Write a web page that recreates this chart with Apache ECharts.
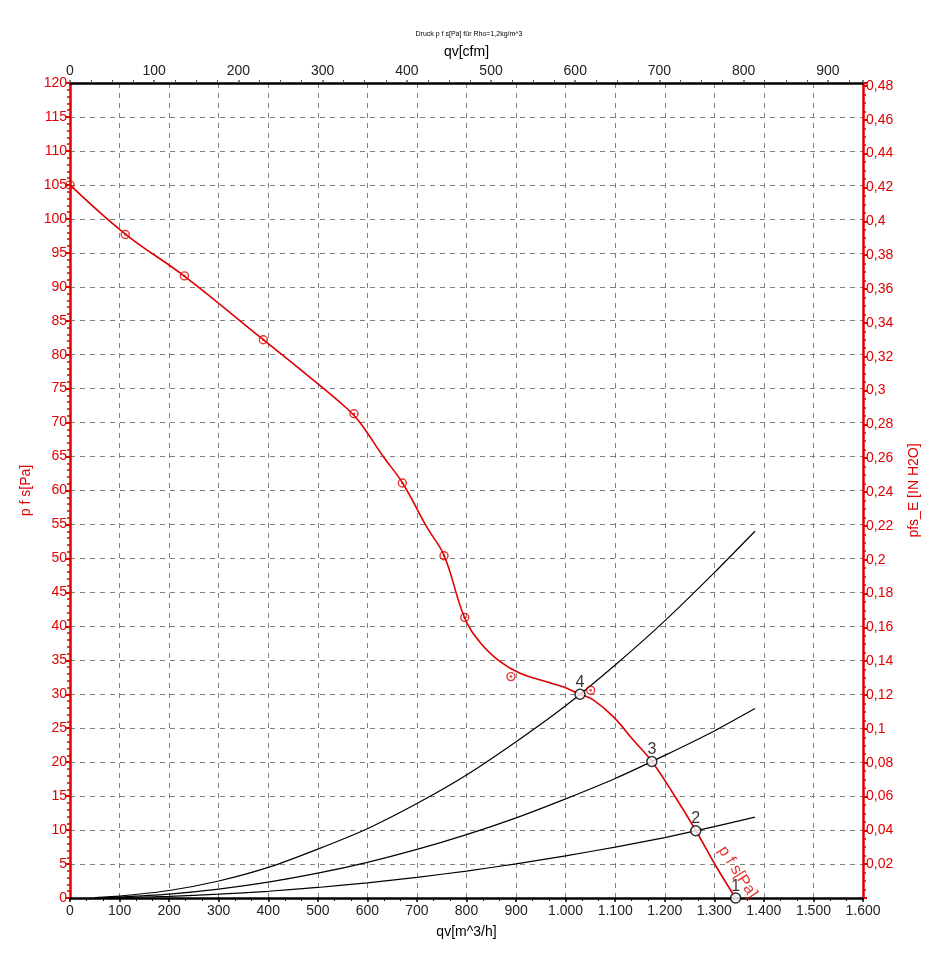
<!DOCTYPE html>
<html>
<head>
<meta charset="utf-8">
<script src="https://cdn.jsdelivr.net/npm/echarts@6/dist/echarts.min.js"></script>
<style>
html,body{margin:0;padding:0;background:#fff;}
#chart{width:938px;height:960px;}
</style>
</head>
<body>
<div id="chart"></div>
<script>
// ---- data ----
const titleText = 'Druck p f s[Pa] für Rho=1,2kg/m^3';
const M3H_TO_CFM = 0.588578;      // 1 m^3/h in cfm
const PA_TO_INH2O = 1 / 249.089;  // 1 Pa in in H2O
const qvMax = 1600;
const pMax = 120;

// fan curve p f s [Pa] vs qv [m^3/h]
const curveQ = [0, 111, 230, 390, 470, 560, 585, 632, 671, 720, 755, 796, 828, 868, 908, 963, 995, 1029, 1055, 1096, 1136, 1174, 1216, 1263, 1304, 1343];
const curveP = [105, 97.8, 91.6, 82.2, 77.5, 72.0, 70.0, 65.0, 61.1, 54.6, 50.4, 41.3, 37.6, 34.8, 33.1, 31.8, 31.1, 30.0, 29.2, 26.7, 23.3, 20.1, 15.5, 9.9, 4.6, 0];

// measured points
const measQ = [0, 111.5, 230.8, 390, 573, 670.6, 754.6, 796.4, 889.7, 1050.4];
const measP = [105, 97.7, 91.6, 82.2, 71.3, 61.1, 50.4, 41.3, 32.6, 30.6];

// system resistance curves
const sysQ  = [50, 100, 200, 300, 400, 500, 600, 700, 800, 900, 1000, 1100, 1200, 1300, 1382];
const sys4P = [0.07, 0.28, 1.1, 2.5, 4.5, 7.2, 10.2, 13.9, 18.1, 23.0, 28.3, 34.3, 40.8, 47.9, 54.0];
const sys3P = [0.04, 0.15, 0.58, 1.31, 2.33, 3.65, 5.25, 7.15, 9.33, 11.8, 14.6, 17.6, 21.0, 24.6, 27.9];
const sys2P = [0.02, 0.06, 0.25, 0.56, 0.99, 1.55, 2.24, 3.04, 3.97, 5.03, 6.21, 7.5, 8.9, 10.5, 11.9];

// operating points
const opQ = [1343, 1262.6, 1174, 1029];
const opP = [0, 9.9, 20.1, 30.0];
const opLabels = ['1', '2', '3', '4'];

// curve label
const curveLabel = 'p f s[Pa]';
const curveLabelAt = [1347, 3.8];

// ---- chart ----
const RED = '#e00000';
const FONT = '"Liberation Sans", Arial, sans-serif';
const zip = (a, b) => a.map((v, i) => [v, b[i]]);

function fmtThousands(v) {
  if (v >= 1000) {
    const t = Math.floor(v / 1000);
    const r = Math.round(v % 1000);
    return t + '.' + String(r).padStart(3, '0');
  }
  return String(Math.round(v));
}
function fmtInH2O(v) {
  if (v === 0) return '';
  const k = Math.round(v / 0.02);
  if (Math.abs(v - k * 0.02) > 1e-6) return '';
  let s = (k * 0.02).toFixed(2).replace(/0+$/, '').replace(/\.$/, '');
  return s.replace('.', ',');
}

const chart = echarts.init(document.getElementById('chart'), null, {renderer: 'canvas'});
const option = {
  backgroundColor: '#fff',
  animation: false,
  title: {
    text: titleText, left: 'center', top: 26,
    textStyle: {fontSize: 7, fontWeight: 'normal', color: '#000', fontFamily: FONT}
  },
  grid: {left: 70, right: 75, top: 83, bottom: 62, containLabel: false},
  xAxis: [
    {
      type: 'value', position: 'bottom', min: 0, max: qvMax, interval: 100,
      name: 'qv[m^3/h]', nameLocation: 'middle', nameGap: 27,
      nameTextStyle: {color: '#000', fontSize: 14, fontFamily: FONT},
      axisLine: {show: true, onZero: false, lineStyle: {color: '#000', width: 2.5}},
      axisTick: {show: true, inside: false, length: 4, lineStyle: {color: '#000', width: 1.5}},
      minorTick: {show: true, splitNumber: 3, length: 3, lineStyle: {color: '#000'}},
      axisLabel: {color: '#222', fontSize: 14, fontFamily: FONT, margin: 6, formatter: fmtThousands},
      splitLine: {show: true, lineStyle: {color: '#808080', type: [5, 5], width: 1}}
    },
    {
      type: 'value', position: 'top', min: 0, max: qvMax * M3H_TO_CFM, interval: 100,
      name: 'qv[cfm]', nameLocation: 'middle', nameGap: 24,
      nameTextStyle: {color: '#000', fontSize: 14, fontFamily: FONT},
      axisLine: {show: true, onZero: false, lineStyle: {color: '#000', width: 2.5}},
      axisTick: {show: true, inside: false, length: 3, lineStyle: {color: '#555', width: 1.5}},
      minorTick: {show: true, splitNumber: 4, length: 3, lineStyle: {color: '#555'}},
      axisLabel: {color: '#222', fontSize: 14, fontFamily: FONT, margin: 5, showMaxLabel: false,
        formatter: v => (Math.abs(v - Math.round(v / 100) * 100) < 1e-6 ? String(Math.round(v)) : '')},
      splitLine: {show: false}
    }
  ],
  yAxis: [
    {
      type: 'value', position: 'left', min: 0, max: pMax, interval: 5,
      name: 'p f s[Pa]', nameLocation: 'middle', nameGap: 22, nameRotate: 90,
      nameTextStyle: {color: RED, fontSize: 14, fontFamily: FONT},
      axisLine: {show: true, onZero: false, lineStyle: {color: RED, width: 2.5}},
      axisTick: {show: true, inside: false, length: 4, lineStyle: {color: RED, width: 2}},
      minorTick: {show: true, splitNumber: 5, length: 3, lineStyle: {color: RED, width: 1.5}},
      axisLabel: {color: RED, fontSize: 14, fontFamily: FONT, margin: 3},
      splitLine: {show: true, lineStyle: {color: '#808080', type: [5, 5], width: 1}}
    },
    {
      type: 'value', position: 'right', min: 0, max: pMax * PA_TO_INH2O, interval: 0.02,
      name: 'pfs_E [IN H2O]', nameLocation: 'middle', nameGap: 44, nameRotate: 90,
      nameTextStyle: {color: RED, fontSize: 14, fontFamily: FONT},
      axisLine: {show: true, onZero: false, lineStyle: {color: RED, width: 2.5}},
      axisTick: {show: true, inside: false, length: 4, lineStyle: {color: RED, width: 2}},
      minorTick: {show: true, splitNumber: 4, length: 3, lineStyle: {color: RED, width: 1.5}},
      axisLabel: {color: RED, fontSize: 14, fontFamily: FONT, margin: 3, showMaxLabel: false, formatter: fmtInH2O},
      splitLine: {show: false}
    }
  ],
  series: [
    {type: 'line', data: zip(sysQ, sys4P), showSymbol: false, smooth: 0.2,
     lineStyle: {color: '#000', width: 1.2}, z: 2, silent: true},
    {type: 'line', data: zip(sysQ, sys3P), showSymbol: false, smooth: 0.2,
     lineStyle: {color: '#000', width: 1.2}, z: 2, silent: true},
    {type: 'line', data: zip(sysQ, sys2P), showSymbol: false, smooth: 0.2,
     lineStyle: {color: '#000', width: 1.2}, z: 2, silent: true},
    {type: 'line', data: zip(curveQ, curveP), showSymbol: false, smooth: 0.4,
     lineStyle: {color: RED, width: 1.6}, z: 3, silent: true},
    {type: 'scatter', data: zip(measQ, measP), symbol: 'circle', symbolSize: 8,
     itemStyle: {color: 'rgba(255,255,255,0)', borderColor: RED, borderWidth: 1.4}, z: 4, silent: true},
    {type: 'scatter', data: zip(measQ, measP), symbol: 'circle', symbolSize: 2.5,
     itemStyle: {color: RED}, z: 4, silent: true},
    {type: 'scatter', data: zip(opQ, opP), symbol: 'circle', symbolSize: 10,
     itemStyle: {color: '#fff', borderColor: '#000', borderWidth: 1.5}, z: 5, silent: true,
     label: {show: true, position: 'top', distance: -2, color: '#000', fontSize: 16, fontFamily: FONT,
       formatter: p => opLabels[p.dataIndex]}},
    {type: 'scatter', data: [curveLabelAt], symbolSize: 0, z: 5, silent: true,
     label: {show: true, position: 'inside', rotate: -57, color: RED, fontSize: 16, fontFamily: FONT,
       formatter: () => curveLabel}}
  ]
};
chart.setOption(option);
</script>
</body>
</html>
